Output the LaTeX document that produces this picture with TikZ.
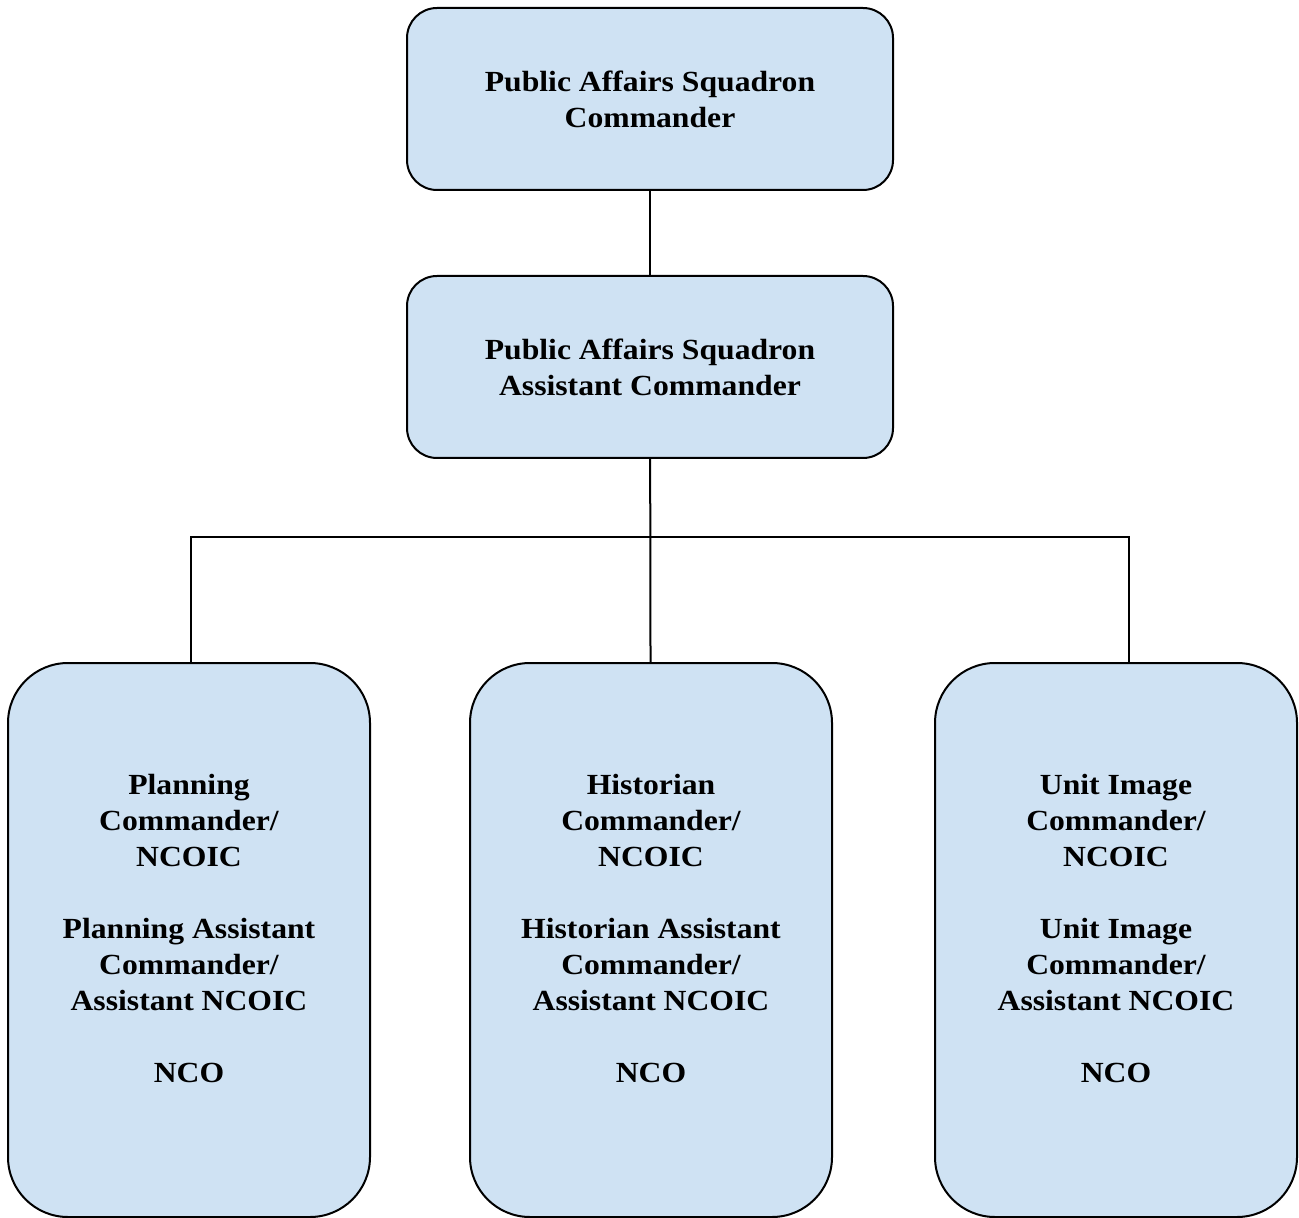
\documentclass[tikz,border=0pt]{standalone}
\usepackage{fontspec}
\setmainfont{Liberation Serif}[FakeStretch=1.085]
\usetikzlibrary{positioning}
\definecolor{boxblue}{HTML}{CFE2F3}

\begin{document}
\begin{tikzpicture}[x=0.5pt,y=-0.5pt,line width=1pt]
    \tikzstyle{box}=[draw, fill=boxblue, align=center, inner sep=0pt, font=\bfseries\fontsize{14.6}{18}\selectfont]
    \tikzstyle{cmdbox}=[box, rounded corners=15pt, minimum width=243pt, minimum height=91pt]
    \tikzstyle{sectbox}=[box, rounded corners=30pt, minimum width=181pt, minimum height=277pt]

    \useasboundingbox (0,0) rectangle (1299,1218);
    \clip (0,0) rectangle (1299,1218);

    \node[cmdbox] (cmdr) at (650,99) {Public Affairs Squadron\\Commander};
    \node[cmdbox] (asst) at (650,367) {Public Affairs Squadron\\Assistant Commander};

    \node[sectbox] (plan) at (189,940) {Planning\\Commander/\\NCOIC\\[18pt]Planning Assistant\\Commander/\\Assistant NCOIC\\[18pt]NCO\\[-6pt]};
    \node[sectbox] (hist) at (651,940) {Historian\\Commander/\\NCOIC\\[18pt]Historian Assistant\\Commander/\\Assistant NCOIC\\[18pt]NCO\\[-6pt]};
    \node[sectbox] (unit) at (1116,940) {Unit Image\\Commander/\\NCOIC\\[18pt]Unit Image\\Commander/\\Assistant NCOIC\\[18pt]NCO\\[-6pt]};

    \coordinate (bus) at (651,537);
    \draw (cmdr) -- (asst);
    \draw (asst) -- (hist);
    \draw ([xshift=1pt]plan.north) |- (bus) -| ([xshift=6.5pt]unit.north);
\end{tikzpicture}
\end{document}
